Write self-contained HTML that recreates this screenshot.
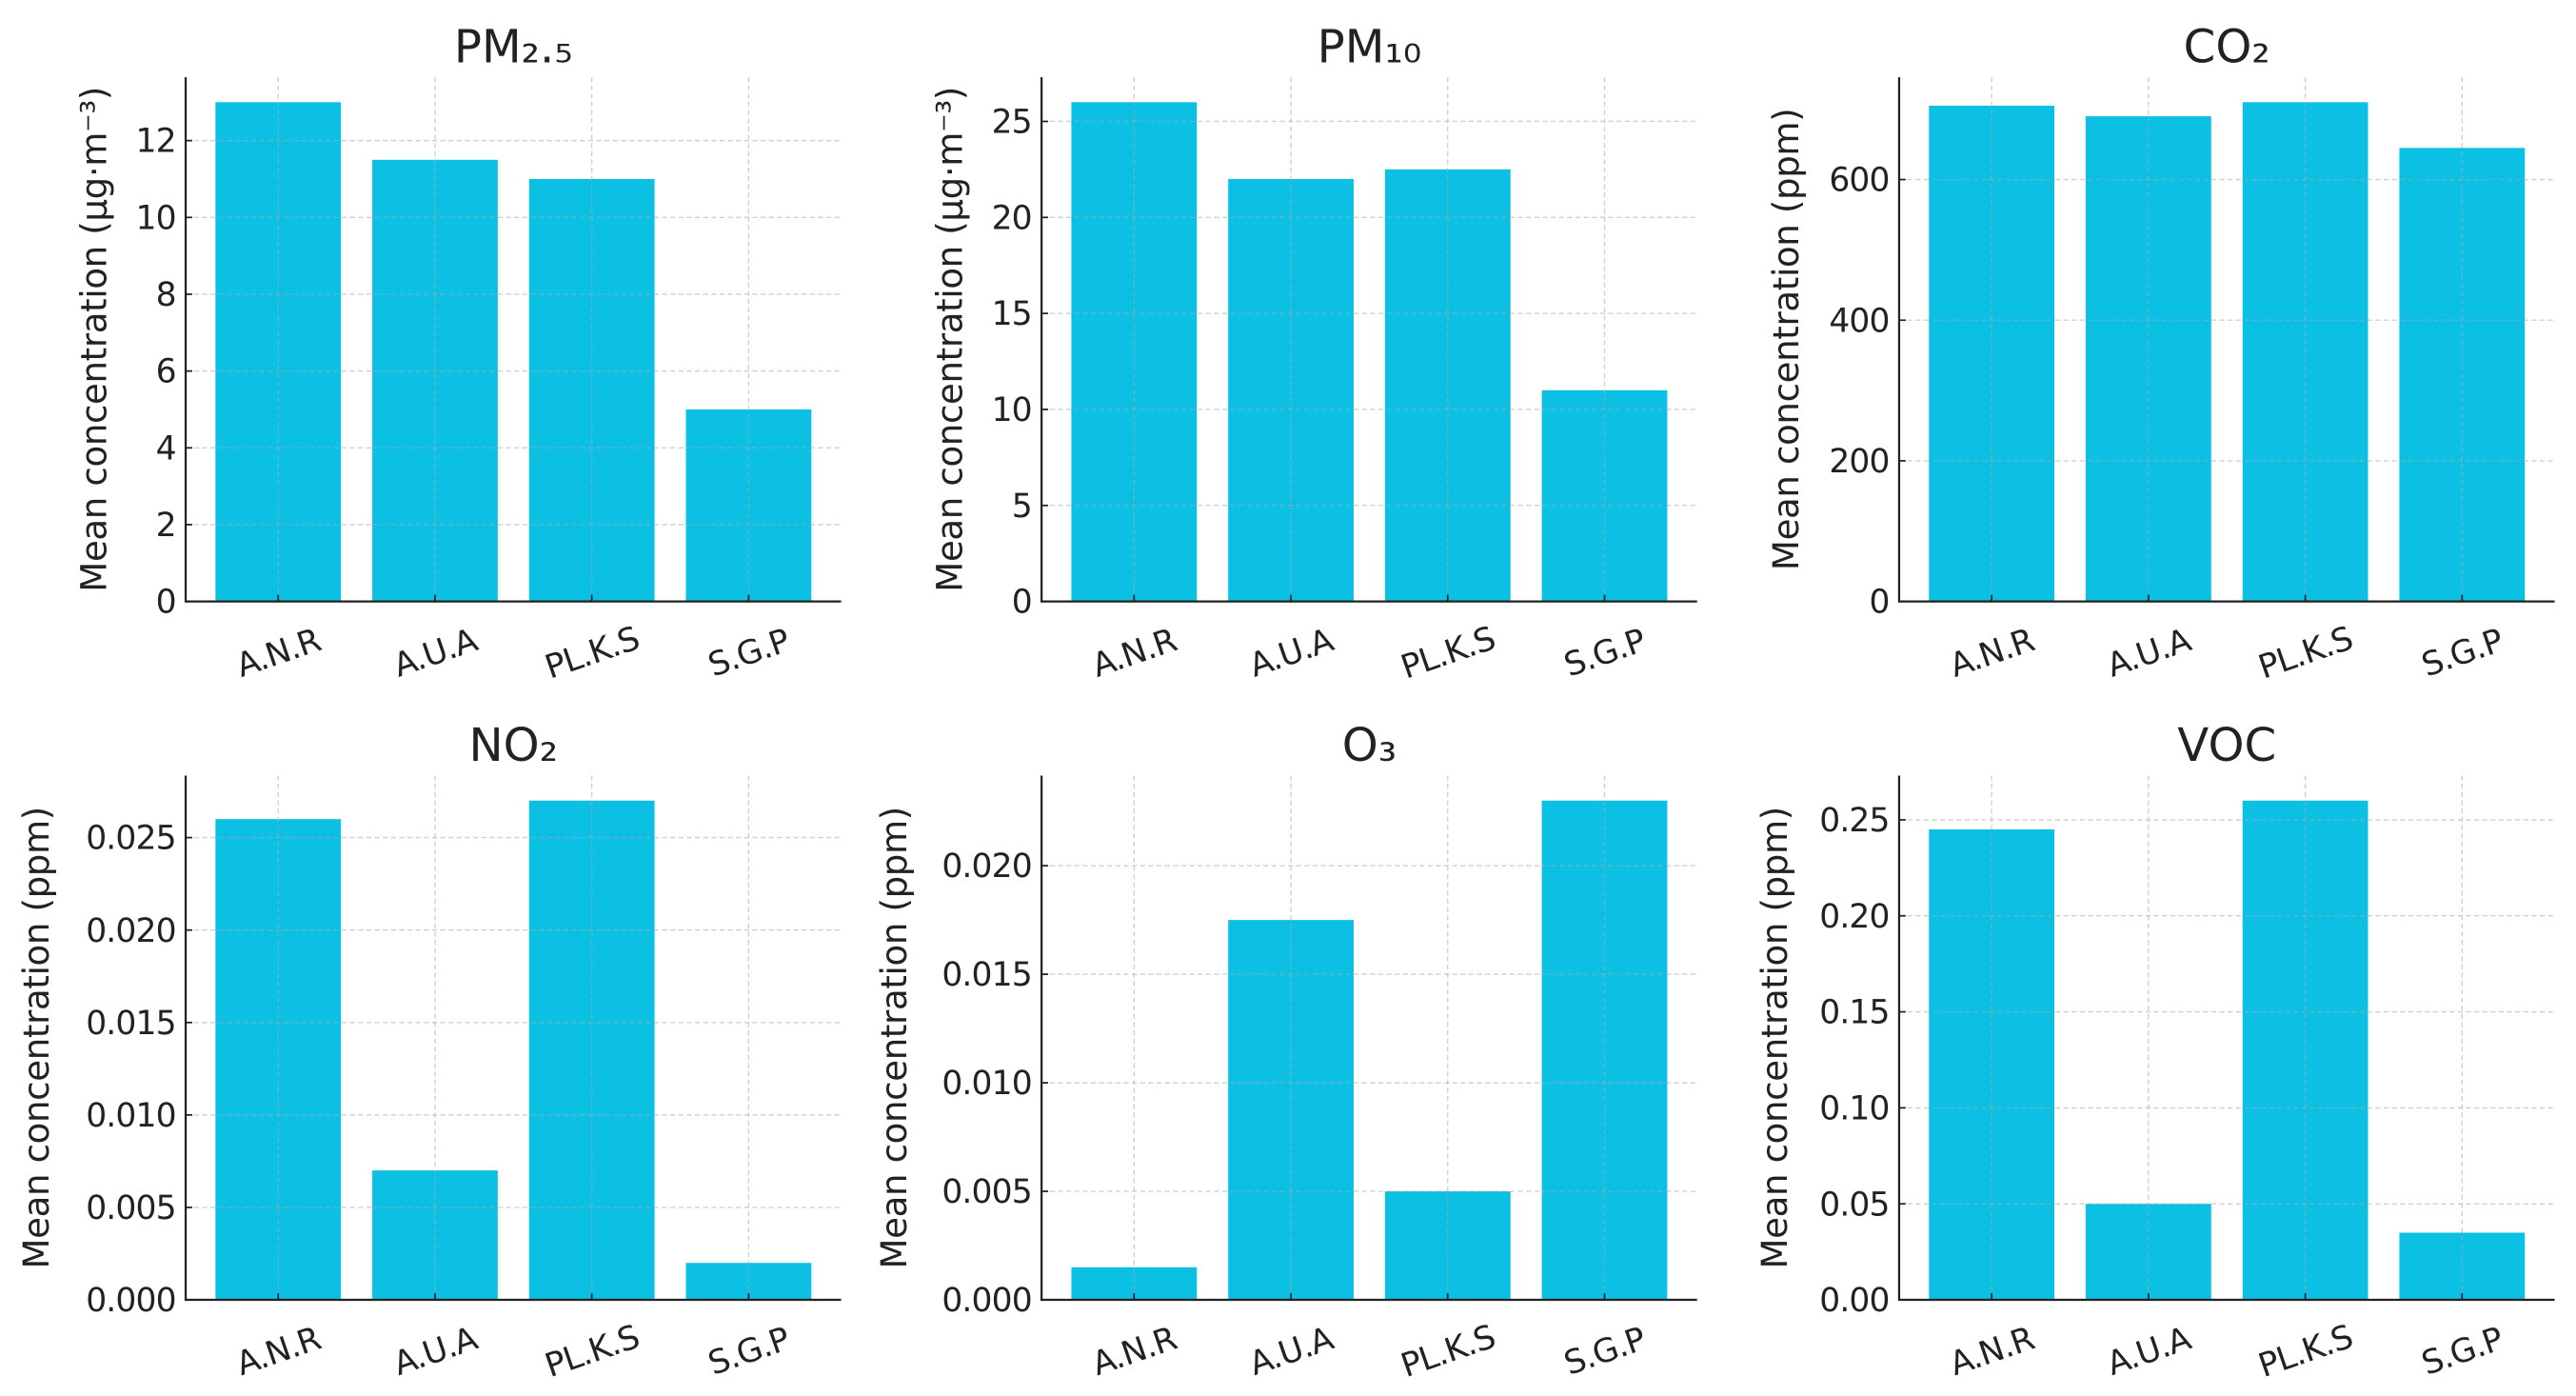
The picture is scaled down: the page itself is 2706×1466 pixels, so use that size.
<!DOCTYPE html>
<html><head><meta charset="utf-8"><style>
html,body{margin:0;padding:0;background:#fff}
svg{display:block}
text{font-family:"DejaVu Sans","Liberation Sans",sans-serif;fill:#222}
</style></head><body>
<svg id="chart" width="2706" height="1466" viewBox="0 0 1568 849.5" xmlns="http://www.w3.org/2000/svg"></svg>
<script>
const categories = ["A.N.R","A.U.A","PL.K.S","S.G.P"];
const titles = ["PM₂.₅","PM₁₀","CO₂","NO₂","O₃","VOC"];
const yLabels = ["Mean concentration (µg·m⁻³)","Mean concentration (µg·m⁻³)","Mean concentration (ppm)","Mean concentration (ppm)","Mean concentration (ppm)","Mean concentration (ppm)"];
const pm25Values = [13, 11.5, 11, 5];
const pm10Values = [26, 22, 22.5, 11];
const co2Values = [705, 690, 710, 645];
const no2Values = [0.026, 0.007, 0.027, 0.002];
const o3Values = [0.0015, 0.0175, 0.005, 0.023];
const vocValues = [0.245, 0.05, 0.26, 0.035];
const pm25Ticks = ["0","2","4","6","8","10","12"];
const pm10Ticks = ["0","5","10","15","20","25"];
const co2Ticks = ["0","200","400","600"];
const no2Ticks = ["0.000","0.005","0.010","0.015","0.020","0.025"];
const o3Ticks = ["0.000","0.005","0.010","0.015","0.020"];
const vocTicks = ["0.00","0.05","0.10","0.15","0.20","0.25"];

const seriesList = [pm25Values, pm10Values, co2Values, no2Values, o3Values, vocValues];
const tickList = [pm25Ticks, pm10Ticks, co2Ticks, no2Ticks, o3Ticks, vocTicks];
const panelNames = ["pm25","pm10","co2","no2","o3","voc"];
const lefts = [113, 634, 1156];
const labelXs = [57, 578, 1087, 22, 544, 1080];
const tops = [47, 472];
const W = 399, H = 319;
const NS = "http://www.w3.org/2000/svg";
const svg = document.getElementById("chart");
function mk(tag, attrs, parent){const e=document.createElementNS(NS,tag);for(const k in attrs)e.setAttribute(k,attrs[k]);(parent||svg).appendChild(e);return e;}

seriesList.forEach((vals, p) => {
  const x0 = lefts[p%3], top = tops[Math.floor(p/3)], y0 = top + H;
  const g = mk("g", {});
  
  
  const ymax = Math.max(...vals) * 1.05;
  const ys = v => y0 - v / ymax * H;
  const xs = i => x0 + (i + 0.59) / 4.18 * W;
  const bw = 0.8 / 4.18 * W;
  vals.forEach((v, i) => {
    const r = mk("rect", {x: xs(i)-bw/2, y: ys(v), width: bw, height: y0-ys(v), fill: "#0cc0e4"}, g);
    
    
  });
  const ticks = tickList[p];
  ticks.forEach(t => {
    const y = ys(parseFloat(t));
    const gl = mk("line", {x1: x0, x2: x0+W, y1: y, y2: y, stroke: "rgba(170,170,170,0.55)", "stroke-width": 0.8, "stroke-dasharray": "3,2"}, g);
    
    
    mk("line", {x1: x0, x2: x0+4, y1: y, y2: y, stroke: "#222", "stroke-width": 1}, g);
    const tl = mk("text", {x: x0-6, y: y+7, "text-anchor": "end", "font-size": 20, "letter-spacing": -0.5}, g);
    tl.textContent = t;
    
    
  });
  categories.forEach((c, i) => {
    const x = xs(i);
    const gl = mk("line", {x1: x, x2: x, y1: top, y2: y0, stroke: "rgba(170,170,170,0.55)", "stroke-width": 0.8, "stroke-dasharray": "3,2"}, g);
    
    
    mk("line", {x1: x, x2: x, y1: y0, y2: y0-4, stroke: "#222", "stroke-width": 1}, g);
    const tl = mk("text", {x: x, y: y0+38, "text-anchor": "middle", "font-size": 20, "letter-spacing": -0.5, transform: `rotate(-19 ${x} ${y0+31})`}, g);
    tl.textContent = c;
    
    
  });
  const ax = mk("path", {d: `M${x0} ${top} V${y0} H${x0+W}`, fill: "none", stroke: "#222", "stroke-width": 1.3}, g);
  
  
  const tt = mk("text", {x: x0+W/2, y: top-9, "text-anchor": "middle", "font-size": 28}, g);
  tt.textContent = titles[p];
  
  
  const lx = labelXs[p], ly = top + H/2;
  const yl = mk("text", {x: lx, y: ly, "text-anchor": "middle", "font-size": 21.5, "letter-spacing": -0.2, transform: `rotate(-90 ${lx} ${ly})`, dy: 7.5}, g);
  yl.textContent = yLabels[p];
  
  
});
</script>
</body></html>
